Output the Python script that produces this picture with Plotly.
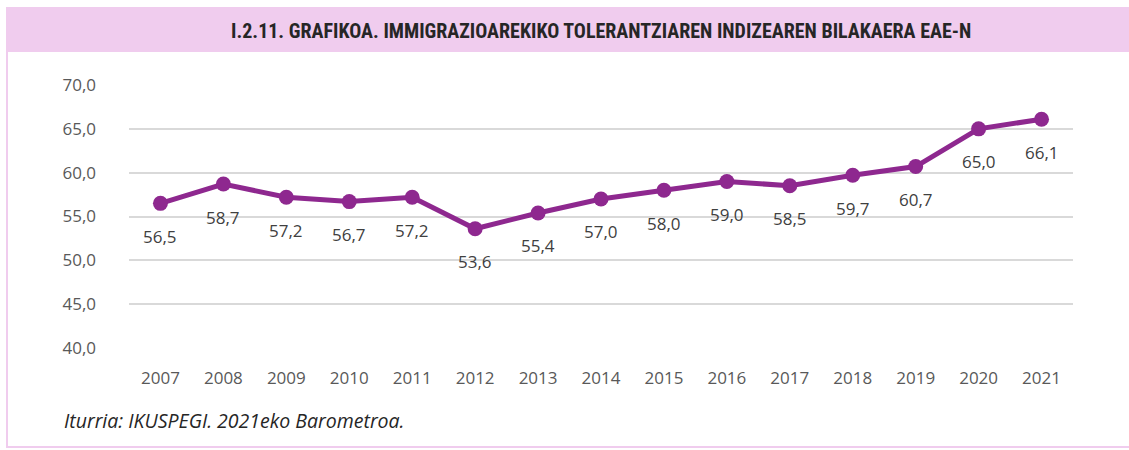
import plotly.graph_objects as go

years = ["2007", "2008", "2009", "2010", "2011", "2012", "2013", "2014",
         "2015", "2016", "2017", "2018", "2019", "2020", "2021"]
values = [56.5, 58.7, 57.2, 56.7, 57.2, 53.6, 55.4, 57.0, 58.0, 59.0, 58.5, 59.7, 60.7, 65.0, 66.1]
y_ticks = [40, 45, 50, 55, 60, 65, 70]
y_tick_labels = ["40,0", "45,0", "50,0", "55,0", "60,0", "65,0", "70,0"]
title_text = "I.2.11. GRAFIKOA. IMMIGRAZIOAREKIKO TOLERANTZIAREN INDIZEAREN BILAKAERA EAE-N"
source_text = "Iturria: IKUSPEGI. 2021eko Barometroa."

W, H = 1129, 450
L, R, T, B = 129, 56, 85, 102
pw, ph = W - L - R, H - T - B

def px(X):
    return (X - L) / pw

def py(Y):
    return (H - B - Y) / ph

line_color = "#8E288F"
font = "Open Sans, Liberation Sans, sans-serif"

fig = go.Figure()
fig.add_trace(go.Scatter(
    x=years, y=values, mode="lines+markers",
    line=dict(color=line_color, width=5),
    marker=dict(color=line_color, size=15),
    hoverinfo="skip", showlegend=False,
))

for i, v in enumerate(values):
    fig.add_annotation(x=i, y=v, text=f"{v:.1f}".replace(".", ","),
                       showarrow=False, yshift=-33, xref="x", yref="y",
                       font=dict(family=font, size=17, color="#404040"))

# header band and frame
fig.add_shape(type="rect", xref="paper", yref="paper",
              x0=px(7), x1=px(1135), y0=py(447), y1=py(8),
              line=dict(color="#F0CCEE", width=2), fillcolor="rgba(0,0,0,0)", layer="below")
fig.add_shape(type="rect", xref="paper", yref="paper",
              x0=px(7), x1=px(1135), y0=py(52), y1=py(8),
              line=dict(width=0), fillcolor="#F0CCEE", layer="below")
fig.add_annotation(xref="paper", yref="paper", x=px(601), y=py(31), text=f"<b>{title_text}</b>",
                   showarrow=False, xanchor="center", yanchor="middle",
                   font=dict(family="Roboto Condensed, Liberation Sans Narrow, sans-serif",
                             size=20, color="#262626"))
fig.add_annotation(xref="paper", yref="paper", x=px(62), y=py(420), text=f"<i>{source_text}</i>",
                   showarrow=False, xanchor="left", yanchor="middle",
                   font=dict(family=font, size=19.5, color="#262626"))

fig.update_layout(
    width=W, height=H,
    margin=dict(l=L, r=R, t=T, b=B),
    paper_bgcolor="white", plot_bgcolor="white",
    xaxis=dict(type="category", range=[-0.5, len(years) - 0.5], showgrid=False,
               showline=False, zeroline=False, ticks="", ticklabelstandoff=18,
               tickfont=dict(family=font, size=17, color="#595959")),
    yaxis=dict(range=[40, 70], tickvals=y_ticks, ticktext=y_tick_labels,
               showgrid=True, gridcolor="#D9D9D9", gridwidth=2, zeroline=False,
               showline=False, ticks="", ticklabelstandoff=32,
               tickfont=dict(family=font, size=17, color="#595959")),
)

fig.write_html("out.html", config={"displayModeBar": False},
               post_script="document.body.style.margin='0';document.body.style.overflow='hidden';")
